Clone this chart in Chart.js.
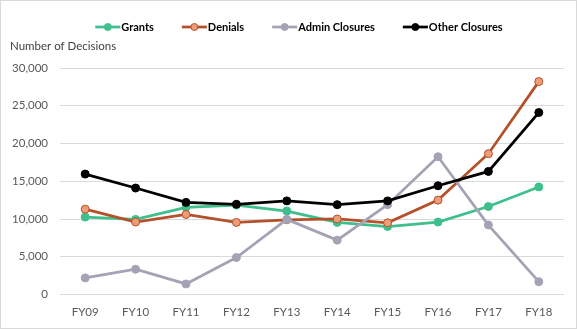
<!DOCTYPE html>
<html>
<head>
<meta charset="utf-8">
<script src="https://cdn.jsdelivr.net/npm/chart.js@4/dist/chart.umd.min.js"></script>
<style>
  html, body { margin: 0; padding: 0; background: #fff; }
  #wrap { width: 577px; height: 329px; position: relative; }
</style>
</head>
<body>
<div id="wrap"><canvas id="chart" width="577" height="329"></canvas></div>
<script>
const years = ['FY09', 'FY10', 'FY11', 'FY12', 'FY13', 'FY14', 'FY15', 'FY16', 'FY17', 'FY18']
const grants = [10250, 9950, 11550, 11850, 11050, 9550, 9000, 9600, 11650, 14250]
const denials = [11300, 9600, 10600, 9550, 9900, 10000, 9500, 12500, 18650, 28200]
const adminClosures = [2200, 3350, 1400, 4900, 9950, 7200, 11900, 18250, 9200, 1700]
const otherClosures = [15950, 14100, 12200, 11950, 12400, 11900, 12400, 14400, 16300, 24100]
const yTicks = [0, 5000, 10000, 15000, 20000, 25000, 30000]

const FONT = 'Lato, "Open Sans", sans-serif'
const ctx = document.getElementById('chart').getContext('2d')

function serie(label, data, line, fill, order) {
    return {
        label: label,
        data: data,
        borderColor: line,
        backgroundColor: fill,
        pointBackgroundColor: fill,
        pointBorderColor: line,
        pointBorderWidth: 1,
        pointRadius: 4,
        pointHoverRadius: 4,
        borderWidth: 2.75,
        tension: 0,
        order: order
    }
}

// legend row + axis caption + outer frame
const extras = {
    id: 'extras',
    afterDraw(chart) {
        const c = chart.ctx
        c.save()
        c.strokeStyle = '#d9d9d9'
        c.lineWidth = 1
        c.strokeRect(0.5, 0.5, chart.width - 1, chart.height - 1)

        c.fillStyle = '#404040'
        c.font = '11.5px ' + FONT
        c.textBaseline = 'middle'
        c.textAlign = 'left'
        c.fillText('Number of Decisions', 10, 46)

        c.font = 'bold 11px ' + FONT
        const sets = chart.data.datasets
        const widths = sets.map(d => 26 + c.measureText(d.label).width)
        const gap = 28
        const total = widths.reduce((a, b) => a + b, 0) + gap * (sets.length - 1)
        let x = 299 - total / 2
        const y = 27
        sets.forEach((d, i) => {
            c.strokeStyle = d.borderColor
            c.lineWidth = 2.75
            c.beginPath()
            c.moveTo(x, y)
            c.lineTo(x + 25, y)
            c.stroke()
            c.beginPath()
            c.arc(x + 12.5, y, 3.5, 0, Math.PI * 2)
            c.fillStyle = d.pointBackgroundColor
            c.fill()
            c.lineWidth = 1
            c.stroke()
            c.fillStyle = '#000'
            c.fillText(d.label, x + 26, y + 0.5)
            x += widths[i] + gap
        })
        c.restore()
    }
}

new Chart(ctx, {
    type: 'line',
    data: {
        labels: years,
        datasets: [
            serie('Grants', grants, '#3fbf8c', '#3fbf8c', 3),
            serie('Denials', denials, '#b4502a', '#ef9c78', 2),
            serie('Admin Closures', adminClosures, '#a3a3b5', '#a3a3b5', 1),
            serie('Other Closures', otherClosures, '#000000', '#000000', 0)
        ]
    },
    options: {
        responsive: false,
        animation: false,
        layout: { padding: { left: 0, right: 13, top: 68, bottom: 0 } },
        plugins: {
            legend: { display: false },
            tooltip: { enabled: false }
        },
        scales: {
            x: {
                offset: true,
                grid: { display: false, drawTicks: false },
                border: { display: false },
                ticks: { color: '#595959', font: { family: FONT, size: 11.5 }, padding: 11, maxRotation: 0 },
                afterFit: function (scale) { scale.height = 34.5 }
            },
            y: {
                min: 0,
                max: 30000,
                afterBuildTicks: function (scale) { scale.ticks = yTicks.map(v => ({ value: v })) },
                grid: { color: '#d9d9d9', lineWidth: 1, drawTicks: false },
                border: { display: false },
                ticks: {
                    color: '#595959',
                    font: { family: FONT, size: 11.5 },
                    padding: 12,
                    callback: function (value) { return value.toLocaleString('en-US') }
                },
                afterFit: function (scale) { scale.width = 60 }
            }
        }
    },
    plugins: [extras]
})
</script>
</body>
</html>
